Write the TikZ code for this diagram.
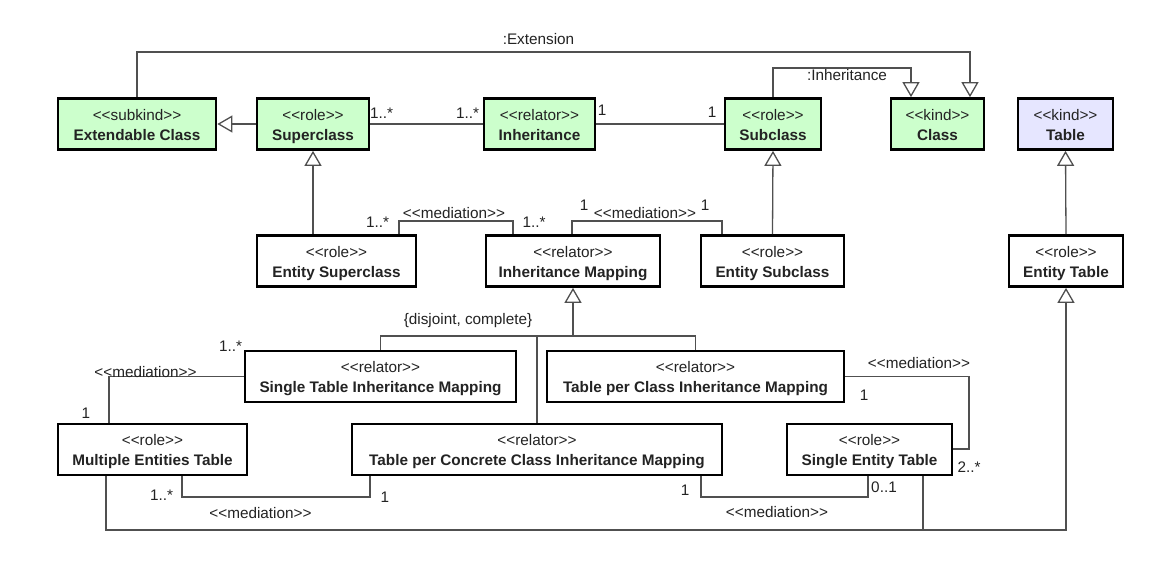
\documentclass[tikz,border=0pt]{standalone}
\usepackage{fontspec}
\newfontfamily\umlfont{Liberation Sans}
\usetikzlibrary{arrows.meta,calc}
\definecolor{umlgreen}{RGB}{204,255,204}
\definecolor{umllav}{RGB}{230,230,255}
\definecolor{linecol}{RGB}{80,80,80}
\definecolor{txtcol}{RGB}{35,35,35}
\newcommand{\st}[1]{<<#1>>}
\newcommand{\bt}[2]{\rule{0pt}{16pt}\st{#1}\\\textbf{#2}\rule[-3pt]{0pt}{3pt}}
\tikzset{
  every node/.style={font=\umlfont\fontsize{15.3}{20}\selectfont, text=txtcol},
  box/.style={draw=black, line width=2.7pt, fill=white, minimum height=51pt, inner sep=0pt, align=center},
  gbox/.style={box, fill=umlgreen},
  lbox/.style={box, fill=umllav},
  conn/.style={draw=linecol, line width=1.3pt},
  gen/.style={conn, -{Triangle[open, length=15pt, width=17pt, line width=1.3pt]}},
  lbl/.style={inner sep=0pt, anchor=center}
}
\begin{document}
\begin{tikzpicture}[x=1pt, y=-1pt]
\fill[white] (0,0) rectangle (1163,574);
\useasboundingbox (0,0) rectangle (1163,574);

% row 1
\node[gbox, minimum width=158pt] (ec)  at (137,124)   {\bt{subkind}{Extendable Class}};
\node[gbox, minimum width=112pt] (sup) at (313,124)   {\bt{role}{Superclass}};
\node[gbox, minimum width=111pt] (inh) at (539.5,124) {\bt{relator}{Inheritance}};
\node[gbox, minimum width=96pt]  (sub) at (773,124)   {\bt{role}{Subclass}};
\node[gbox, minimum width=93pt]  (cls) at (937.5,124) {\bt{kind}{Class}};
\node[lbox, minimum width=95pt]  (tbl) at (1065.5,124){\bt{kind}{Table}};

% row 2
\node[box, minimum width=159pt] (esup) at (336.5,261) {\bt{role}{Entity Superclass}};
\node[box, minimum width=174pt] (im)   at (573,261)   {\bt{relator}{Inheritance Mapping}};
\node[box, minimum width=143pt] (esub) at (772.5,261) {\bt{role}{Entity Subclass}};
\node[box, minimum width=114pt] (et)   at (1066,261)  {\bt{role}{Entity Table}};

% row 3
\node[box, minimum width=271pt] (stim)  at (380.5,376.5) {\bt{relator}{Single Table Inheritance Mapping}};
\node[box, minimum width=297pt] (tpcim) at (695.5,376.5) {\bt{relator}{Table per Class Inheritance Mapping}};

% row 4
\node[box, minimum width=189pt] (met)    at (152.5,449.5) {\bt{role}{Multiple Entities Table}};
\node[box, minimum width=370pt] (tpccim) at (537,449.5)   {\bt{relator}{Table per Concrete Class Inheritance Mapping}};
\node[box, minimum width=165pt] (set)    at (869.5,449.5) {\bt{role}{Single Entity Table}};

% coordinates
\coordinate (e1) at (970,52);
\coordinate (i1) at (911,68);
\coordinate (m1a) at (399,221);
\coordinate (m1b) at (513,221);
\coordinate (m2a) at (572,221);
\coordinate (m2b) at (722,221);
\coordinate (g0) at (573,336);
\coordinate (m3) at (109,377);
\coordinate (m4a) at (182,497);
\coordinate (m4b) at (370,497);
\coordinate (m5) at (969,449);
\coordinate (m6a) at (701,497);
\coordinate (m6b) at (868,497);
\coordinate (b0) at (106,530);
\coordinate (b1) at (1066,530);
\coordinate (b2) at (923,530);

% top connectors
\draw[gen] (ec.north) |- (e1) -- (e1 |- cls.north);
\draw[gen] (sub.north) |- (i1) -- (i1 |- cls.north);
\draw[gen] (sup.west) -- (ec.east);
\draw[conn] (sup.east) -- (inh.west);
\draw[conn] (inh.east) -- (sub.west);

% generalizations row 2 -> row 1
\draw[gen] (sup.south |- esup.north) -- (sup.south);
\draw[gen] (esub.north) -- (sub.south);
\draw[gen] (et.north) -- (tbl.south);

% mediations row 2
\draw[conn] (m1a |- esup.north) -- (m1a) -- (m1b) -- (m1b |- im.north);
\draw[conn] (m2a |- im.north) -- (m2a) -- (m2b) -- (m2b |- esub.north);

% generalization set
\draw[gen] (g0) -- (im.south);
\draw[conn] (stim.north) |- (g0) -| (tpcim.north);
\draw[conn] (tpccim.north) -- (tpccim.north |- g0);

% mediations lower part
\draw[conn] (stim.west) -- (stim.west -| m3) -- (m3 |- met.north);
\draw[conn] (m4a |- met.south) -- (m4a) -- (m4b) -- (m4b |- tpccim.south);
\draw[conn] (tpcim.east) -| (m5) -- (m5 -| set.east);
\draw[conn] (m6a |- tpccim.south) -- (m6a) -- (m6b) -- (m6b |- set.south);

% bottom generalization to Entity Table
\draw[gen] (b0 |- met.south) -- (b0) -- (b1) -- (et.south);
\draw[conn] (b2 |- set.south) -- (b2);

% labels
\node[lbl] (lext) at (538.5,39) {:Extension};
\node[lbl] (linh) at (847,75) {:Inheritance};
\node[lbl] (l1) at (381.5,113) {1..*};
\node[lbl] (l2) at (467.5,113) {1..*};
\node[lbl] (l3) at (602,110) {1};
\node[lbl] (l4) at (712,112) {1};
\node[lbl] (l5) at (454,213) {\st{mediation}};
\node[lbl] (l6) at (377.5,222) {1..*};
\node[lbl] (l7) at (534,222) {1..*};
\node[lbl] (l8) at (645,213) {\st{mediation}};
\node[lbl] (l9) at (584,205) {1};
\node[lbl] (l10) at (705,205) {1};
\node[lbl] (l11) at (468,321) {\{disjoint, complete\}};
\node[lbl] (l12) at (230.5,346) {1..*};
\node[lbl] (l13) at (145.5,372) {\st{mediation}};
\node[lbl] (l14) at (86,413) {1};
\node[lbl] (l15) at (919,363) {\st{mediation}};
\node[lbl] (l16) at (864,395) {1};
\node[lbl] (l17) at (969,467) {2..*};
\node[lbl] (l18) at (161.5,495) {1..*};
\node[lbl] (l19) at (385,497) {1};
\node[lbl] (l20) at (260.5,513) {\st{mediation}};
\node[lbl] (l21) at (685,490) {1};
\node[lbl] (l22) at (884,487) {0..1};
\node[lbl] (l23) at (777,512) {\st{mediation}};
\end{tikzpicture}
\end{document}
